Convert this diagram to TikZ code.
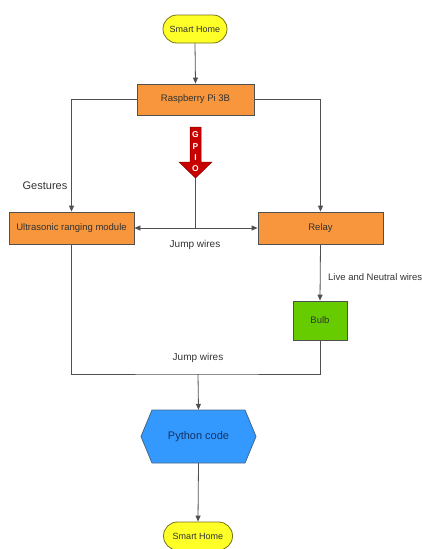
\documentclass[tikz,border=0pt]{standalone}
\usepackage{fontspec}
\setmainfont{Liberation Sans}
\usetikzlibrary{arrows.meta,shapes.misc}
\definecolor{orangebox}{RGB}{247,150,60}
\definecolor{yellowbox}{RGB}{255,255,40}
\definecolor{greenbox}{RGB}{102,204,0}
\definecolor{bluebox}{RGB}{51,153,255}
\definecolor{gpiored}{RGB}{200,0,0}
\definecolor{linegray}{RGB}{80,80,80}
\definecolor{txtgray}{RGB}{50,50,50}
\definecolor{pytxt}{RGB}{20,50,100}
\tikzset{
  box/.style={draw=linegray, line width=0.8pt, fill=orangebox, text=txtgray, inner sep=0pt, font=\fontsize{9.5}{11}\selectfont},
  term/.style={draw=olive!80!black, line width=0.8pt, fill=yellowbox, rounded rectangle, inner sep=0pt, text=txtgray, font=\fontsize{9}{11}\selectfont},
  conn/.style={draw=linegray, line width=0.8pt},
  arr/.style={conn, -{Triangle[length=6pt,width=5pt]}},
  lbl/.style={text=txtgray, font=\fontsize{10}{12}\selectfont, inner sep=0pt}
}
\begin{document}
\begin{tikzpicture}[x=1pt,y=-1pt]
\useasboundingbox (0,0) rectangle (422,549);
% nodes
\node[term, minimum width=64, minimum height=28] (sh1) at (195,29) {Smart Home};
\node[box, minimum width=117, minimum height=31] (rpi) at (195.5,99.5) {Raspberry Pi 3B};
\node[box, minimum width=125, minimum height=32] (us) at (71.5,228) {Ultrasonic ranging module};
\node[box, minimum width=125, minimum height=32] (relay) at (320.5,228) {Relay};
\node[box, fill=greenbox, minimum width=54, minimum height=39] (bulb) at (320,320.5) {Bulb};
% python hexagon
\fill[bluebox, draw=linegray!70!bluebox, line width=0.8pt] (141,436.5) -- (152,410) -- (245,410) -- (256,436.5) -- (245,463) -- (152,463) -- cycle;
\node[inner sep=0pt, minimum width=115, minimum height=53, text=pytxt, font=\fontsize{11}{13}\selectfont] (py) at (198.5,436.5) {Python code};
\node[term, minimum width=69, minimum height=28] (sh2) at (198,536) {Smart Home};
% GPIO arrow
\fill[gpiored, draw=gpiored!70!black, line width=0.5pt] (190,127) -- (201,127) -- (201,162) -- (212,162) -- (195.5,178) -- (179,162) -- (190,162) -- cycle;
\node[inner sep=0pt, text=white, align=center, font=\bfseries\fontsize{8.5}{11.3}\selectfont] (gpio) at (195.5,152) {G\\P\\I\\O};
\coordinate (gtip) at (195.5,178);
\coordinate (jn) at (195.5,228);
\coordinate (jb) at (198,374);
% connectors
\draw[arr] (sh1.south) -- (rpi.north);
\draw[arr] (rpi.west) -| (us.north);
\draw[arr] (rpi.east) -| (relay.north);
\draw[conn] (gtip) -- (jn);
\draw[arr] (jn) -- (us.east);
\draw[arr] (jn) -- (relay.west);
\draw[arr] (relay.south) -- (bulb.north);
\draw[conn] (us.south) |- (jb) -| (bulb.south);
\draw[arr] (jb) -- (py.north);
\draw[arr] (py.south) -- (sh2.north);
% labels
\node[lbl, font=\fontsize{11}{13}\selectfont] (lg) at (45,186) {Gestures};
\node[lbl] (lj1) at (195,245) {Jump wires};
\node[lbl, anchor=west, font=\fontsize{9.5}{11}\selectfont] (lln) at (328,277) {Live and Neutral wires};
\node[lbl] (lj2) at (198,358) {Jump wires};
\end{tikzpicture}
\end{document}
